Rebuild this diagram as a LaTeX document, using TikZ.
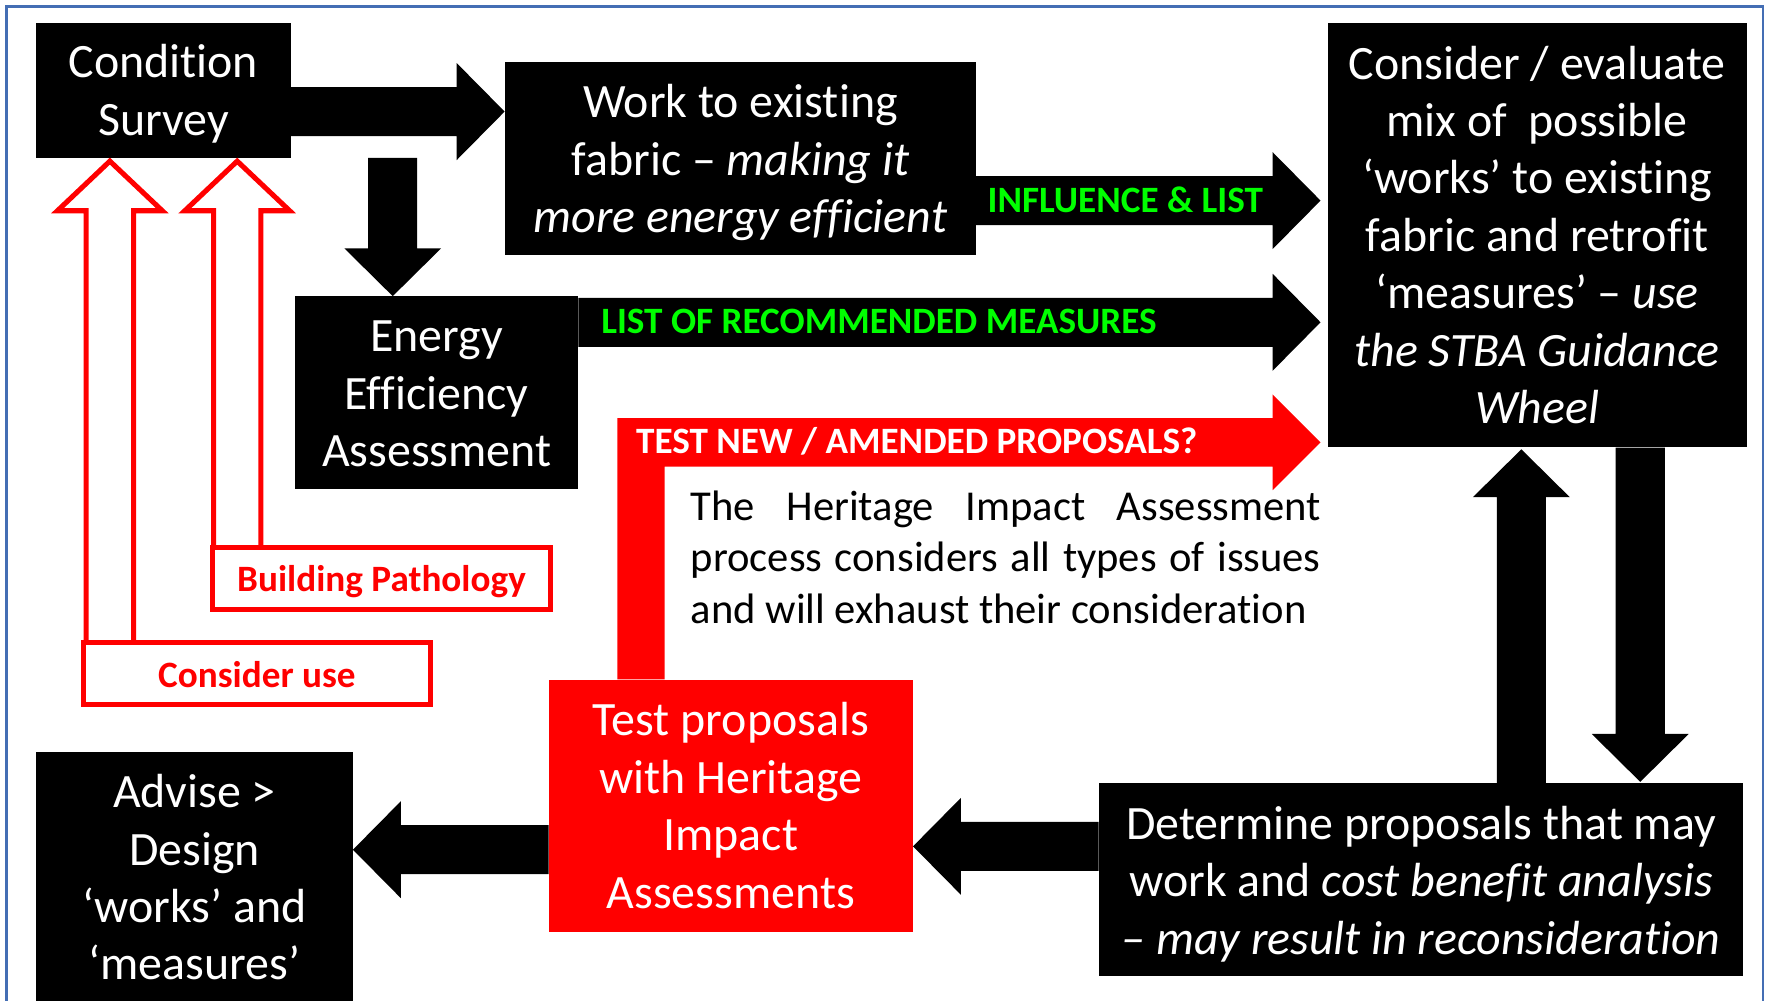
\documentclass[tikz,border=0pt]{standalone}
\usepackage{fontspec}
\setmainfont{Carlito}[Ligatures=NoCommon]
\usetikzlibrary{calc}
\definecolor{frameblue}{RGB}{68,110,180}
\definecolor{hgreen}{RGB}{0,255,0}
\definecolor{hred}{RGB}{255,0,0}

% block arrow geometry (pt)
\def\shafthalf{21.75}
\def\headhalf{43}
\def\headlen{42.5}
% horizontal block arrow: #1 fill, #2 start, #3 tip, #4 direction (+1 right, -1 left)
\newcommand\blockarrowh[4]{%
  \fill[#1] ($(#2)+(0,-\shafthalf)$) -- ($(#3)+({-(#4)*\headlen},-\shafthalf)$)
    -- ($(#3)+({-(#4)*\headlen},-\headhalf)$) -- (#3)
    -- ($(#3)+({-(#4)*\headlen},\headhalf)$) -- ($(#3)+({-(#4)*\headlen},\shafthalf)$)
    -- ($(#2)+(0,\shafthalf)$) -- cycle;}
% vertical block arrow: #4 direction (+1 down, -1 up)
\newcommand\blockarrowv[4]{%
  \fill[#1] ($(#2)+(-\shafthalf,0)$) -- ($(#3)+(-\shafthalf,{-(#4)*\headlen})$)
    -- ($(#3)+(-\headhalf,{-(#4)*\headlen})$) -- (#3)
    -- ($(#3)+(\headhalf,{-(#4)*\headlen})$) -- ($(#3)+(\shafthalf,{-(#4)*\headlen})$)
    -- ($(#2)+(\shafthalf,0)$) -- cycle;}

\begin{document}
\begin{tikzpicture}[x=1pt,y=-1pt,
  box/.style={rectangle, fill=black, inner sep=0pt},
  redbox/.style={box, fill=hred},
  boxtext/.style={text=white, align=center, inner sep=0pt,
    font=\fontsize{42.5}{51}\selectfont},
  tagbox/.style={rectangle, draw=hred, line width=4.5pt, fill=white, inner sep=0pt},
  tagtext/.style={text=hred, inner sep=0pt, font=\fontsize{33}{38}\selectfont\bfseries},
  outarrow/.style={draw=hred, line width=4.5pt, fill=white, line join=miter},
  lbl/.style={inner sep=0pt, font=\fontsize{33}{38}\selectfont\bfseries}]
\useasboundingbox (0,0) rectangle (1568,888);
\clip (0,0) rectangle (1568,888);

% frame
\draw[frameblue, line width=2.5pt] (6,900) -- (6,6) -- (1564.5,6) -- (1564.5,900);

% process boxes
\node[box, minimum width=226pt, minimum height=120pt] (cs) at (145,80) {};
\node[box, minimum width=418pt, minimum height=171pt] (work) at (657,140.5) {};
\node[box, minimum width=251pt, minimum height=171pt] (energy) at (387.5,348.5) {};
\node[box, minimum width=372pt, minimum height=377pt] (consider) at (1364,208.5) {};
\node[box, minimum width=281pt, minimum height=223pt] (advise) at (172.5,778.5) {};
\node[redbox, minimum width=323pt, minimum height=224pt] (test) at (648.5,715) {};
\node[box, minimum width=572pt, minimum height=171pt] (determine) at (1261,780.5) {};

% box texts
\node[boxtext] (cs-t) at ($(cs)+(0,3)$) {Condition\\Survey};
\node[boxtext] (work-t) at ($(work)+(0,4)$)
  {Work to existing\\fabric – \textit{making it}\\\textit{more energy efficient}};
\node[boxtext] (energy-t) at ($(energy)+(0,1)$) {Energy\\Efficiency\\Assessment};
\node[boxtext] (consider-t) at (consider)
  {Consider / evaluate\\mix of~ possible\\‘works’ to existing\\fabric and retrofit\\‘measures’ – \textit{use}\\\textit{the STBA Guidance}\\\textit{Wheel}};
\node[boxtext] (advise-t) at (advise) {Advise >\\Design\\‘works’ and\\‘measures’};
\node[boxtext] (test-t) at (test) {Test proposals\\with Heritage\\Impact\\Assessments};
\node[boxtext] (determine-t) at ($(determine)+(0,4)$)
  {Determine proposals that may\\work and \textit{cost benefit analysis}\\\textit{– may result in reconsideration}};

% hollow red arrows feeding the condition survey
\draw[outarrow] (76.5,571) -- (76.5,187) -- (51,187) -- (97.5,143) -- (144,187) -- (118.5,187) -- (118.5,571);
\draw[outarrow] (189.5,488) -- (189.5,187) -- (164,187) -- (210.5,143) -- (257,187) -- (231.5,187) -- (231.5,488);
\node[tagbox, minimum width=300.6pt, minimum height=54.6pt] (bp) at (338.5,513.5) {};
\node[tagbox, minimum width=307.6pt, minimum height=54.6pt] (cu) at (228,597.5) {};
\node[tagtext] (bp-t) at ($(bp)+(0,2.5)$) {Building Pathology};
\node[tagtext] (cu-t) at ($(cu)+(0,1)$) {Consider use};

% block arrows between boxes
\coordinate (a1s) at (cs.east |- 0,99);
\coordinate (a1t) at (work.west |- 0,99);
\blockarrowh{black}{a1s}{a1t}{1}
\coordinate (a2s) at (348.5,0 |- cs.south);
\coordinate (a2t) at (348.5,0 |- energy.north);
\blockarrowv{black}{a2s}{a2t}{1}
\coordinate (a3s) at (work.east |- 0,178);
\coordinate (a3t) at ($(consider.west |- 0,178)+(-6,0)$);
\blockarrowh{black}{a3s}{a3t}{1}
\coordinate (a4s) at (energy.east |- 0,286);
\coordinate (a4t) at ($(consider.west |- 0,286)+(-6,0)$);
\blockarrowh{black}{a4s}{a4t}{1}
\coordinate (a6s) at (test.west |- 0,754);
\coordinate (a6t) at (advise.east |- 0,754);
\blockarrowh{black}{a6s}{a6t}{-1}
\coordinate (a7s) at (determine.west |- 0,751);
\coordinate (a7t) at (test.east |- 0,751);
\blockarrowh{black}{a7s}{a7t}{-1}
\coordinate (a8s) at (1350,0 |- determine.north);
\coordinate (a8t) at ($(1350,0 |- consider.south)+(0,1.5)$);
\blockarrowv{black}{a8s}{a8t}{-1}
\coordinate (a9s) at (1455.5,0 |- consider.south);
\coordinate (a9t) at ($(1455.5,0 |- determine.north)+(0,-1)$);
\blockarrowv{black}{a9s}{a9t}{1}

% red feedback arrow from the heritage test back to the evaluation
\coordinate (r0) at ($(test.north west)+(61,0)$);
\coordinate (rt) at ($(consider.west |- 0,392.5)+(-6,0)$);
\fill[hred] (r0) -- ($(r0 |- rt)+(0,-21.5)$) -- ($(rt)+(-42.5,-21.5)$) -- ($(rt)+(-42.5,-42.5)$)
  -- (rt) -- ($(rt)+(-42.5,42.5)$) -- ($(rt)+(-42.5,21.5)$) -- ($(r0 |- rt)+(42,21.5)$)
  -- ($(r0)+(42,0)$) -- cycle;

% arrow labels
\node[lbl, text=hgreen] (l1) at (998.5,177) {INFLUENCE \& LIST};
\node[lbl, text=hgreen] (l2) at (780,285) {LIST OF RECOMMENDED MEASURES};
\node[lbl, text=white] (l3) at (813.5,392) {TEST NEW / AMENDED PROPOSALS?};

% note on the heritage impact assessment
\node[text width=559pt, align=justify, inner sep=0pt, font=\fontsize{37.8}{45.5}\selectfont] (hia) at (892.5,494.5)
  {The Heritage Impact Assessment\linebreak process considers all types of issues\linebreak and will exhaust their consideration};
\end{tikzpicture}
\end{document}
